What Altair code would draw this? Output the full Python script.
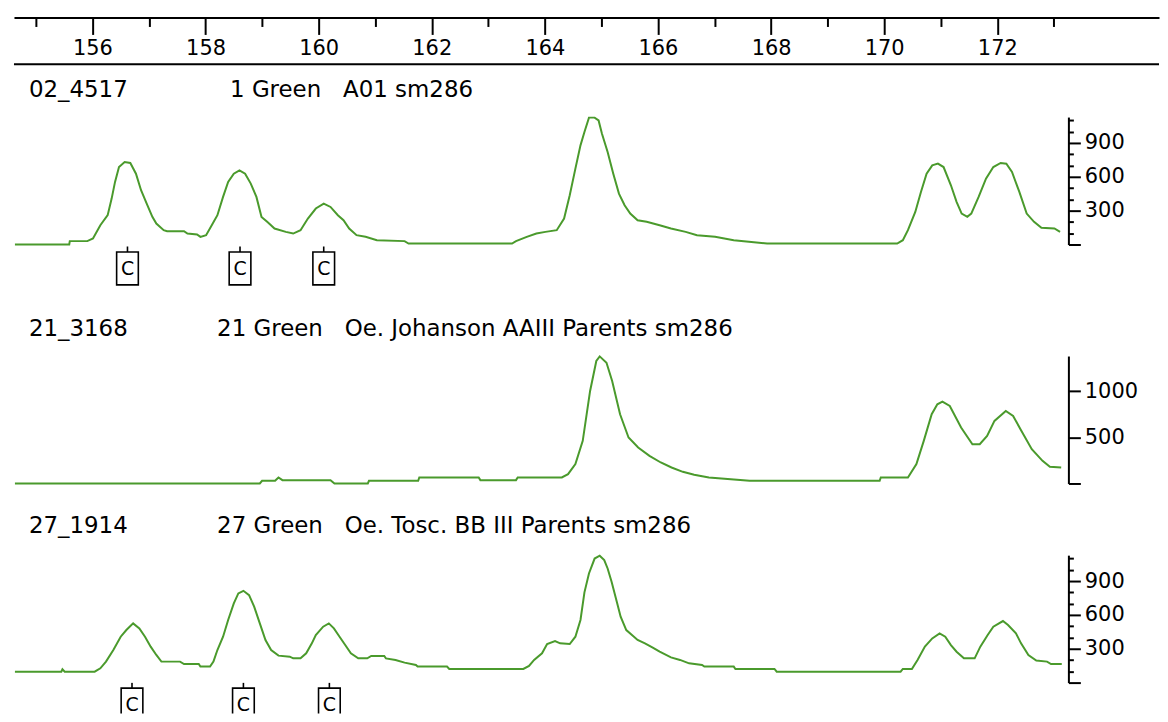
import altair as alt
import pandas as pd

FONT = "DejaVu Sans"
GREEN = "#4a9a2c"

# ---------------- data ----------------
ruler_ticks = list(range(155, 174))

p1_bp = [154.63, 155.59, 155.60, 155.91, 156.01, 156.14, 156.27, 156.34, 156.40, 156.47,
         156.57, 156.67, 156.77, 156.86, 156.96, 157.06, 157.13, 157.26, 157.32, 157.62,
         157.68, 157.85, 157.91, 158.01, 158.11, 158.21, 158.31, 158.40, 158.50, 158.60,
         158.70, 158.80, 158.90, 158.99, 159.09, 159.22, 159.42, 159.55, 159.68, 159.81,
         159.95, 160.09, 160.21, 160.34, 160.44, 160.54, 160.67, 160.83, 161.03, 161.52,
         161.59, 163.42, 163.49, 163.68, 163.85, 164.01, 164.21, 164.34, 164.44, 164.54,
         164.63, 164.70, 164.78, 164.88, 164.95, 165.01, 165.11, 165.21, 165.31, 165.41,
         165.51, 165.64, 165.80, 166.03, 166.23, 166.49, 166.69, 167.01, 167.34, 167.93,
         170.23, 170.33, 170.42, 170.55, 170.65, 170.75, 170.85, 170.95, 171.05, 171.18,
         171.28, 171.37, 171.47, 171.54, 171.67, 171.80, 171.93, 172.06, 172.16, 172.26,
         172.39, 172.52, 172.65, 172.78, 173.01, 173.11]
p1_rfu = [0, 0, 30, 30, 53, 171, 260, 407, 555, 687,
          732, 723, 628, 481, 363, 245, 186, 127, 118, 118,
          97, 89, 68, 83, 171, 260, 422, 555, 628, 658,
          628, 540, 422, 245, 201, 142, 112, 97, 127, 230,
          319, 363, 333, 260, 215, 142, 83, 68, 38, 30,
          9, 9, 30, 68, 97, 112, 127, 230, 437, 673,
          879, 997, 1125, 1125, 1100, 982, 820, 628, 451, 348,
          274, 215, 201, 171, 142, 112, 83, 68, 38, 9,
          9, 38, 127, 289, 466, 628, 702, 717, 687, 525,
          378, 274, 245, 274, 422, 584, 687, 723, 717, 643,
          466, 274, 201, 148, 142, 112]

p2_bp = [154.63, 158.96, 159.00, 159.23, 159.29, 159.36, 160.21, 160.28, 160.87, 160.89,
         161.76, 161.78, 162.83, 162.86, 163.49, 163.52, 164.30, 164.41, 164.54, 164.67,
         164.80, 164.91, 164.97, 165.09, 165.19, 165.33, 165.48, 165.65, 165.85, 166.05,
         166.24, 166.44, 166.64, 166.90, 167.62, 169.92, 169.94, 170.42, 170.57, 170.70,
         170.84, 170.94, 171.03, 171.16, 171.36, 171.56, 171.69, 171.82, 171.95, 172.15,
         172.28, 172.41, 172.61, 172.80, 172.93, 173.13]
p2_rfu = [0, 0, 29, 29, 65, 36, 36, 0, 0, 29,
          29, 65, 65, 36, 36, 65, 65, 101, 209, 461,
          1001, 1325, 1375, 1307, 1109, 749, 497, 389, 299, 227,
          173, 126, 94, 65, 29, 29, 65, 65, 209, 461,
          749, 857, 886, 839, 605, 425, 425, 515, 677, 785,
          731, 587, 371, 245, 180, 173]

p3_bp = [154.63, 155.45, 155.47, 155.51, 156.04, 156.14, 156.24, 156.37, 156.50, 156.60,
         156.72, 156.83, 156.93, 157.03, 157.13, 157.22, 157.55, 157.62, 157.88, 157.91,
         158.08, 158.14, 158.21, 158.31, 158.40, 158.50, 158.58, 158.67, 158.77, 158.86,
         158.96, 159.06, 159.16, 159.29, 159.49, 159.55, 159.68, 159.78, 159.88, 159.95,
         160.08, 160.18, 160.27, 160.37, 160.47, 160.57, 160.70, 160.86, 160.93, 161.16,
         161.19, 161.36, 161.52, 161.72, 161.75, 162.27, 162.31, 163.62, 163.72, 163.81,
         163.95, 164.04, 164.18, 164.27, 164.44, 164.54, 164.63, 164.70,
         164.78, 164.88, 164.97, 165.05, 165.11, 165.18, 165.28, 165.34, 165.44, 165.54,
         165.64, 165.77, 165.90, 166.03, 166.23, 166.39, 166.55, 166.78, 166.82, 167.34,
         167.37, 168.06, 168.10, 170.29, 170.33, 170.49, 170.59, 170.72, 170.85, 170.98,
         171.08, 171.18, 171.28, 171.41, 171.60, 171.70, 171.83, 171.93, 172.10, 172.19,
         172.33, 172.42, 172.55, 172.69, 172.88, 172.95, 173.14]
p3_rfu = [97, 97, 118, 97, 97, 127, 186, 289, 407, 466,
          525, 481, 407, 319, 245, 186, 186, 165, 165, 142,
          142, 186, 289, 407, 555, 702, 791, 814, 776, 673,
          525, 378, 289, 239, 230, 215, 215, 260, 348, 422,
          496, 525, 481, 407, 333, 260, 215, 215, 236, 236,
          215, 201, 177, 156, 142, 142, 121, 121, 148, 201,
          260, 342, 369, 348, 342, 407, 555, 800,
          968, 1100, 1125, 1086, 1012, 894, 702, 584, 466, 422,
          378, 348, 313, 274, 224, 201, 171, 156, 142, 142,
          121, 121, 97, 97, 121, 121, 201, 319, 392, 437,
          407, 333, 274, 215, 215, 319, 422, 496, 546, 510,
          437, 348, 245, 195, 186, 165, 165]

p1_calls = [156.62, 158.61, 160.09]
p3_calls = [156.70, 158.67, 160.19]

sample_ids = ["02_4517", "21_3168", "27_1914"]
sample_desc = ["1 Green\u00a0\u00a0 A01 sm286",
               "21 Green\u00a0\u00a0 Oe. Johanson AAIII Parents sm286",
               "27 Green\u00a0\u00a0 Oe. Tosc. BB III Parents sm286"]

p_ymax = [1130, 1379, 1130]
p_yticks = [list(range(0, 1200, 100)), [0, 500, 1000], list(range(0, 1200, 100))]
p_major = [300, 500, 300]

# ---------------- layout ----------------
BP0 = 154.613
PX_BP = 56.8
PW = 1059
RW = 1150
PH = 128

xs_panel = alt.Scale(domain=[BP0, BP0 + PW / PX_BP], nice=False, zero=False)
xs_ruler = alt.Scale(domain=[BP0, BP0 + RW / PX_BP], nice=False, zero=False)

axis_common = dict(tickWidth=2, tickColor="black", domainColor="black", domainWidth=2,
                   labelFont=FONT, labelColor="black",
                   labelFlush=False, labelOverlap=False, labelBound=False,
                   grid=False, title=None, format="d")

# ruler
ruler_axis = alt.Axis(orient="bottom", offset=-47, values=ruler_ticks,
                      labelExpr="datum.value % 2 === 0 ? datum.label : ''",
                      tickSize=alt.ExprRef("datum.value % 2 === 0 ? 17 : 9"),
                      labelPadding=3, labelFontSize=21, **axis_common)
ruler_pts = alt.Chart(pd.DataFrame({"bp": ruler_ticks})).mark_point(opacity=0).encode(
    x=alt.X("bp:Q", scale=xs_ruler, axis=ruler_axis))
ruler_line = alt.Chart(pd.DataFrame({"k": [0]})).mark_rule(color="black", strokeWidth=2).encode(
    x=alt.value(0), x2=alt.value(RW), y=alt.value(47))
ruler = alt.layer(ruler_pts, ruler_line).properties(width=RW, height=47)


def panel(bp, rfu, ymax, yticks, major):
    df = pd.DataFrame({"bp": bp, "rfu": rfu})
    yaxis = alt.Axis(orient="right", values=yticks,
                     labelExpr=f"datum.value > 0 && datum.value % {major} === 0 ? datum.label : ''",
                     tickSize=alt.ExprRef(f"datum.value % {major} === 0 ? 12 : 5"),
                     labelPadding=4, labelFontSize=21, **axis_common)
    return alt.Chart(df).mark_line(color=GREEN, strokeWidth=2).encode(
        x=alt.X("bp:Q", scale=xs_panel, axis=None),
        y=alt.Y("rfu:Q", scale=alt.Scale(domain=[0, ymax], nice=False, zero=False), axis=yaxis),
    ).properties(width=PW, height=PH)


BOX = "M-0.66,-1H0.66V1H-0.66Z M0,-1V-1.33"


def calls_layers(calls, yc, clip=False):
    df = pd.DataFrame({"bp": calls})
    box = alt.Chart(df).mark_point(shape=BOX, size=1089, filled=False, color="black",
                                   strokeWidth=1.6, opacity=1, clip=clip).encode(
        x=alt.X("bp:Q", scale=xs_panel, axis=None), y=alt.value(yc))
    txt = alt.Chart(df).mark_text(text="C", font=FONT, fontSize=19, color="black",
                                  baseline="middle", clip=clip).encode(
        x=alt.X("bp:Q", scale=xs_panel, axis=None), y=alt.value(yc + 1))
    return [box, txt]


def title_layers(i, yc, x2):
    df = pd.DataFrame({"sid": [sample_ids[i]], "desc": [sample_desc[i]]})
    a = alt.Chart(df).mark_text(align="left", baseline="middle", font=FONT, fontSize=23,
                                color="black").encode(x=alt.value(15), y=alt.value(yc), text="sid:N")
    b = alt.Chart(df).mark_text(align="left", baseline="middle", font=FONT, fontSize=23,
                                color="black").encode(x=alt.value(x2), y=alt.value(yc), text="desc:N")
    return [a, b]


row_t1 = alt.layer(*title_layers(0, 26, 217)).properties(width=PW, height=53)
row_p1 = panel(p1_bp, p1_rfu, p_ymax[0], p_yticks[0], p_major[0])
row_c1 = alt.layer(*calls_layers(p1_calls, 24), *title_layers(1, 85, 204)).properties(width=PW, height=112)
row_p2 = panel(p2_bp, p2_rfu, p_ymax[1], p_yticks[1], p_major[1])
row_t3 = alt.layer(*title_layers(2, 43, 204)).properties(width=PW, height=72)
row_p3 = panel(p3_bp, p3_rfu, p_ymax[2], p_yticks[2], p_major[2])
row_c3 = alt.layer(*calls_layers(p3_calls, 22, clip=True)).properties(width=PW, height=31)

chart = alt.vconcat(ruler, row_t1, row_p1, row_c1, row_p2, row_t3, row_p3, row_c3,
                    spacing=0, bounds="flush").resolve_scale(
    x="independent", y="independent").properties(
    padding={"left": 2, "top": 7, "right": 0, "bottom": 0}
).configure_view(stroke=None)

chart.save("out.html", embed_options={"renderer": "svg", "actions": False})
